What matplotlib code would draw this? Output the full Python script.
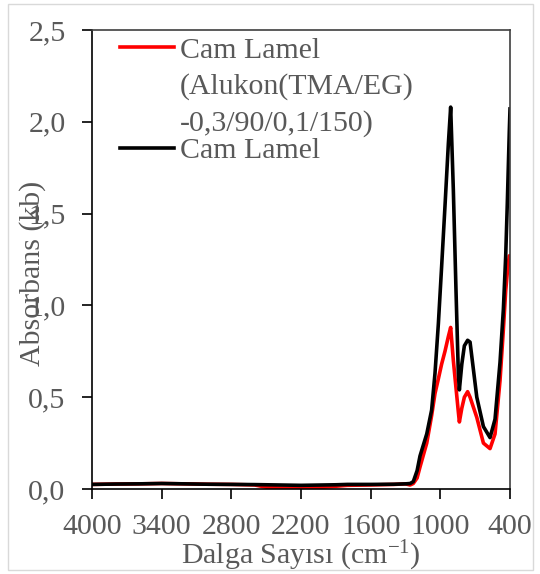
import matplotlib
matplotlib.use("Agg")
import matplotlib.pyplot as plt
import matplotlib.ticker as mticker
from matplotlib.lines import Line2D
from matplotlib.patches import Rectangle

plt.rcParams.update({
    "font.family":      "Liberation Serif",
    "font.size":        21.5,
    "mathtext.fontset": "custom",
    "mathtext.rm":      "Liberation Serif",
    "mathtext.it":      "Liberation Serif:italic",
    "axes.linewidth":   1.2,
})
TEXT = "#595959"

# FTIR spectra
wavenumber = [4000, 3800, 3600, 3400, 3200, 3000, 2800, 2600, 2500, 2400, 2300,
              2200, 2100, 2000, 1900, 1800, 1600, 1400, 1300, 1260, 1233, 1200,
              1175, 1117, 1075, 1046, 1017, 989, 960, 931, 911, 888, 865, 845,
              836, 815, 793, 765, 744, 686, 629, 572, 529, 486, 457, 437, 423,
              406, 400]
coated = [0.025, 0.027, 0.028, 0.030, 0.028, 0.026, 0.025, 0.022, 0.010, 0.006,
          0.005, 0.006, 0.008, 0.010, 0.015, 0.020, 0.022, 0.025, 0.028, 0.022,
          0.030, 0.060, 0.12, 0.25, 0.40, 0.52, 0.60, 0.68, 0.75, 0.83, 0.88,
          0.70, 0.55, 0.42, 0.365, 0.44, 0.50, 0.53, 0.50, 0.39, 0.25, 0.22,
          0.30, 0.59, 0.87, 1.08, 1.18, 1.27, 1.27]
glass = [0.025, 0.027, 0.028, 0.030, 0.028, 0.026, 0.025, 0.024, 0.023, 0.022,
         0.021, 0.020, 0.021, 0.022, 0.023, 0.025, 0.025, 0.026, 0.028, 0.030,
         0.040, 0.10, 0.18, 0.30, 0.43, 0.63, 0.90, 1.21, 1.54, 1.88, 2.08,
         1.63, 1.08, 0.63, 0.54, 0.68, 0.78, 0.81, 0.80, 0.50, 0.34, 0.28,
         0.38, 0.69, 0.98, 1.27, 1.56, 1.95, 2.07]

x_ticks = [4000, 3400, 2800, 2200, 1600, 1000, 400]
y_ticks = [0.0, 0.5, 1.0, 1.5, 2.0, 2.5]

fig = plt.figure(figsize=(5.4, 5.74), dpi=100)
ax = fig.add_axes([92 / 540, 85 / 574, 418 / 540, 459 / 574])

ax.plot(wavenumber, coated, color="#ff0000", linewidth=2.6, solid_joinstyle="round")
ax.plot(wavenumber, glass, color="black", linewidth=2.6, solid_joinstyle="round")

ax.set_xlim(4000, 400)
ax.set_ylim(0, 2.5)
ax.set_xticks(x_ticks)
ax.set_yticks(y_ticks)
ax.yaxis.set_major_formatter(mticker.FuncFormatter(lambda v, _: f"{v:.1f}".replace(".", ",")))
ax.tick_params(direction="out", length=7, width=1.2, colors="black", labelcolor=TEXT)
ax.tick_params(axis="x", pad=11)
ax.tick_params(axis="y", pad=12)
for side in ("top", "right"):
    ax.spines[side].set_color("#404040")

ax.set_xlabel("Dalga Sayısı (cm$^{\\mathrm{-1}}$)", color=TEXT, labelpad=-1)
ax.set_ylabel("Absorbans (kb)", color=TEXT)
ax.yaxis.set_label_coords(-0.11, 0.47)

# legend: first entry has a three-line label with the handle on the top line
leg1 = ax.legend(
    [Line2D([], [], color="#ff0000", linewidth=2.6), Line2D([], [], alpha=0)],
    ["Cam Lamel", "(Alukon(TMA/EG)\n-0,3/90/0,1/150)"],
    loc="upper left", bbox_to_anchor=(0.067, 0.985), frameon=False,
    borderpad=0, borderaxespad=0, handlelength=1.8, handletextpad=0.2,
    labelspacing=0.32, labelcolor=TEXT,
)
for t in leg1.get_texts():
    t.set_linespacing(1.48)
ax.add_artist(leg1)
ax.legend(
    [Line2D([], [], color="black", linewidth=2.6)], ["Cam Lamel"],
    loc="center left", bbox_to_anchor=(0.067, 0.737), frameon=False,
    borderpad=0, borderaxespad=0, handlelength=1.8, handletextpad=0.2,
    labelcolor=TEXT,
)

fig.patches.append(Rectangle((8 / 540, 4 / 574), 525 / 540, 566 / 574,
                             transform=fig.transFigure, fill=False,
                             edgecolor="#d9d9d9", linewidth=1))

fig.savefig("out.png", dpi=100, facecolor="white")
